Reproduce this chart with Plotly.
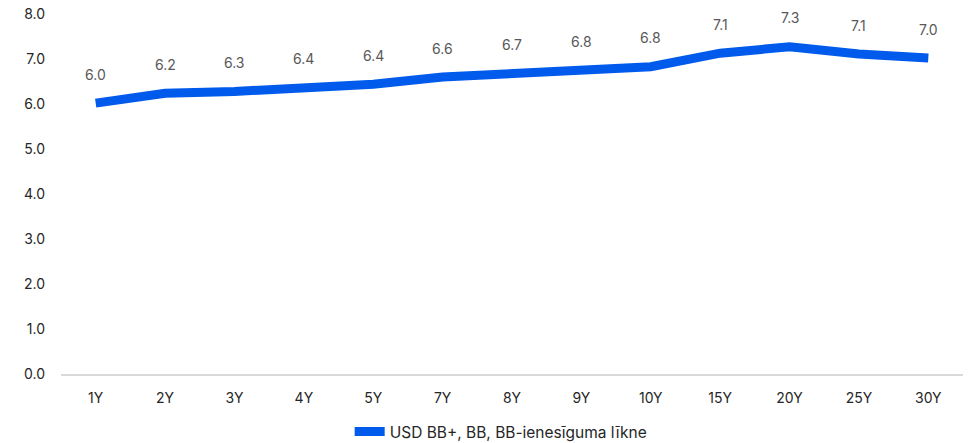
import plotly.graph_objects as go

categories = ["1Y", "2Y", "3Y", "4Y", "5Y", "7Y", "8Y", "9Y", "10Y", "15Y", "20Y", "25Y", "30Y"]
yields = [6.02, 6.24, 6.28, 6.37, 6.44, 6.60, 6.68, 6.75, 6.83, 7.13, 7.27, 7.11, 7.02]
series_name = "USD BB+, BB, BB-ienesīguma līkne"
y_ticks = [0, 1, 2, 3, 4, 5, 6, 7, 8]

FONT = "Inter, Lato, sans-serif"

fig = go.Figure()
fig.add_trace(go.Scatter(
    x=categories, y=yields, mode="lines", name=series_name,
    line=dict(color="#005AEB", width=9),
    showlegend=True,
))

for c, v in zip(categories, yields):
    fig.add_annotation(
        x=c, y=v, text=f"{v:.1f}", showarrow=False, yshift=29,
        font=dict(family=FONT, size=14, color="#595959"),
    )

fig.update_layout(
    width=968, height=443,
    margin=dict(l=61, r=5, t=14, b=69, autoexpand=False),
    paper_bgcolor="white", plot_bgcolor="white",
    font=dict(family=FONT, size=14, color="#262626"),
    showlegend=True,
    legend=dict(orientation="h", x=0.488, xanchor="center", y=-0.161, yanchor="middle",
                font=dict(family=FONT, size=15.5, color="#262626")),
    xaxis=dict(
        type="category", range=[-0.5, len(categories) - 0.5],
        showgrid=False, showline=True, linecolor="#D9D9D9", linewidth=2,
        ticks="", ticklabelstandoff=10, tickfont=dict(size=14, color="#262626"),
    ),
    yaxis=dict(
        range=[0, 8], tickvals=y_ticks, tickformat=".1f", showgrid=False, zeroline=False,
        showline=False, ticks="", ticklabelstandoff=15, ticklabeloverflow="allow",
        tickfont=dict(size=14, color="#262626"),
    ),
)

fig.write_html("out.html", config={"displayModeBar": False},
               post_script="document.body.style.margin='0';")
